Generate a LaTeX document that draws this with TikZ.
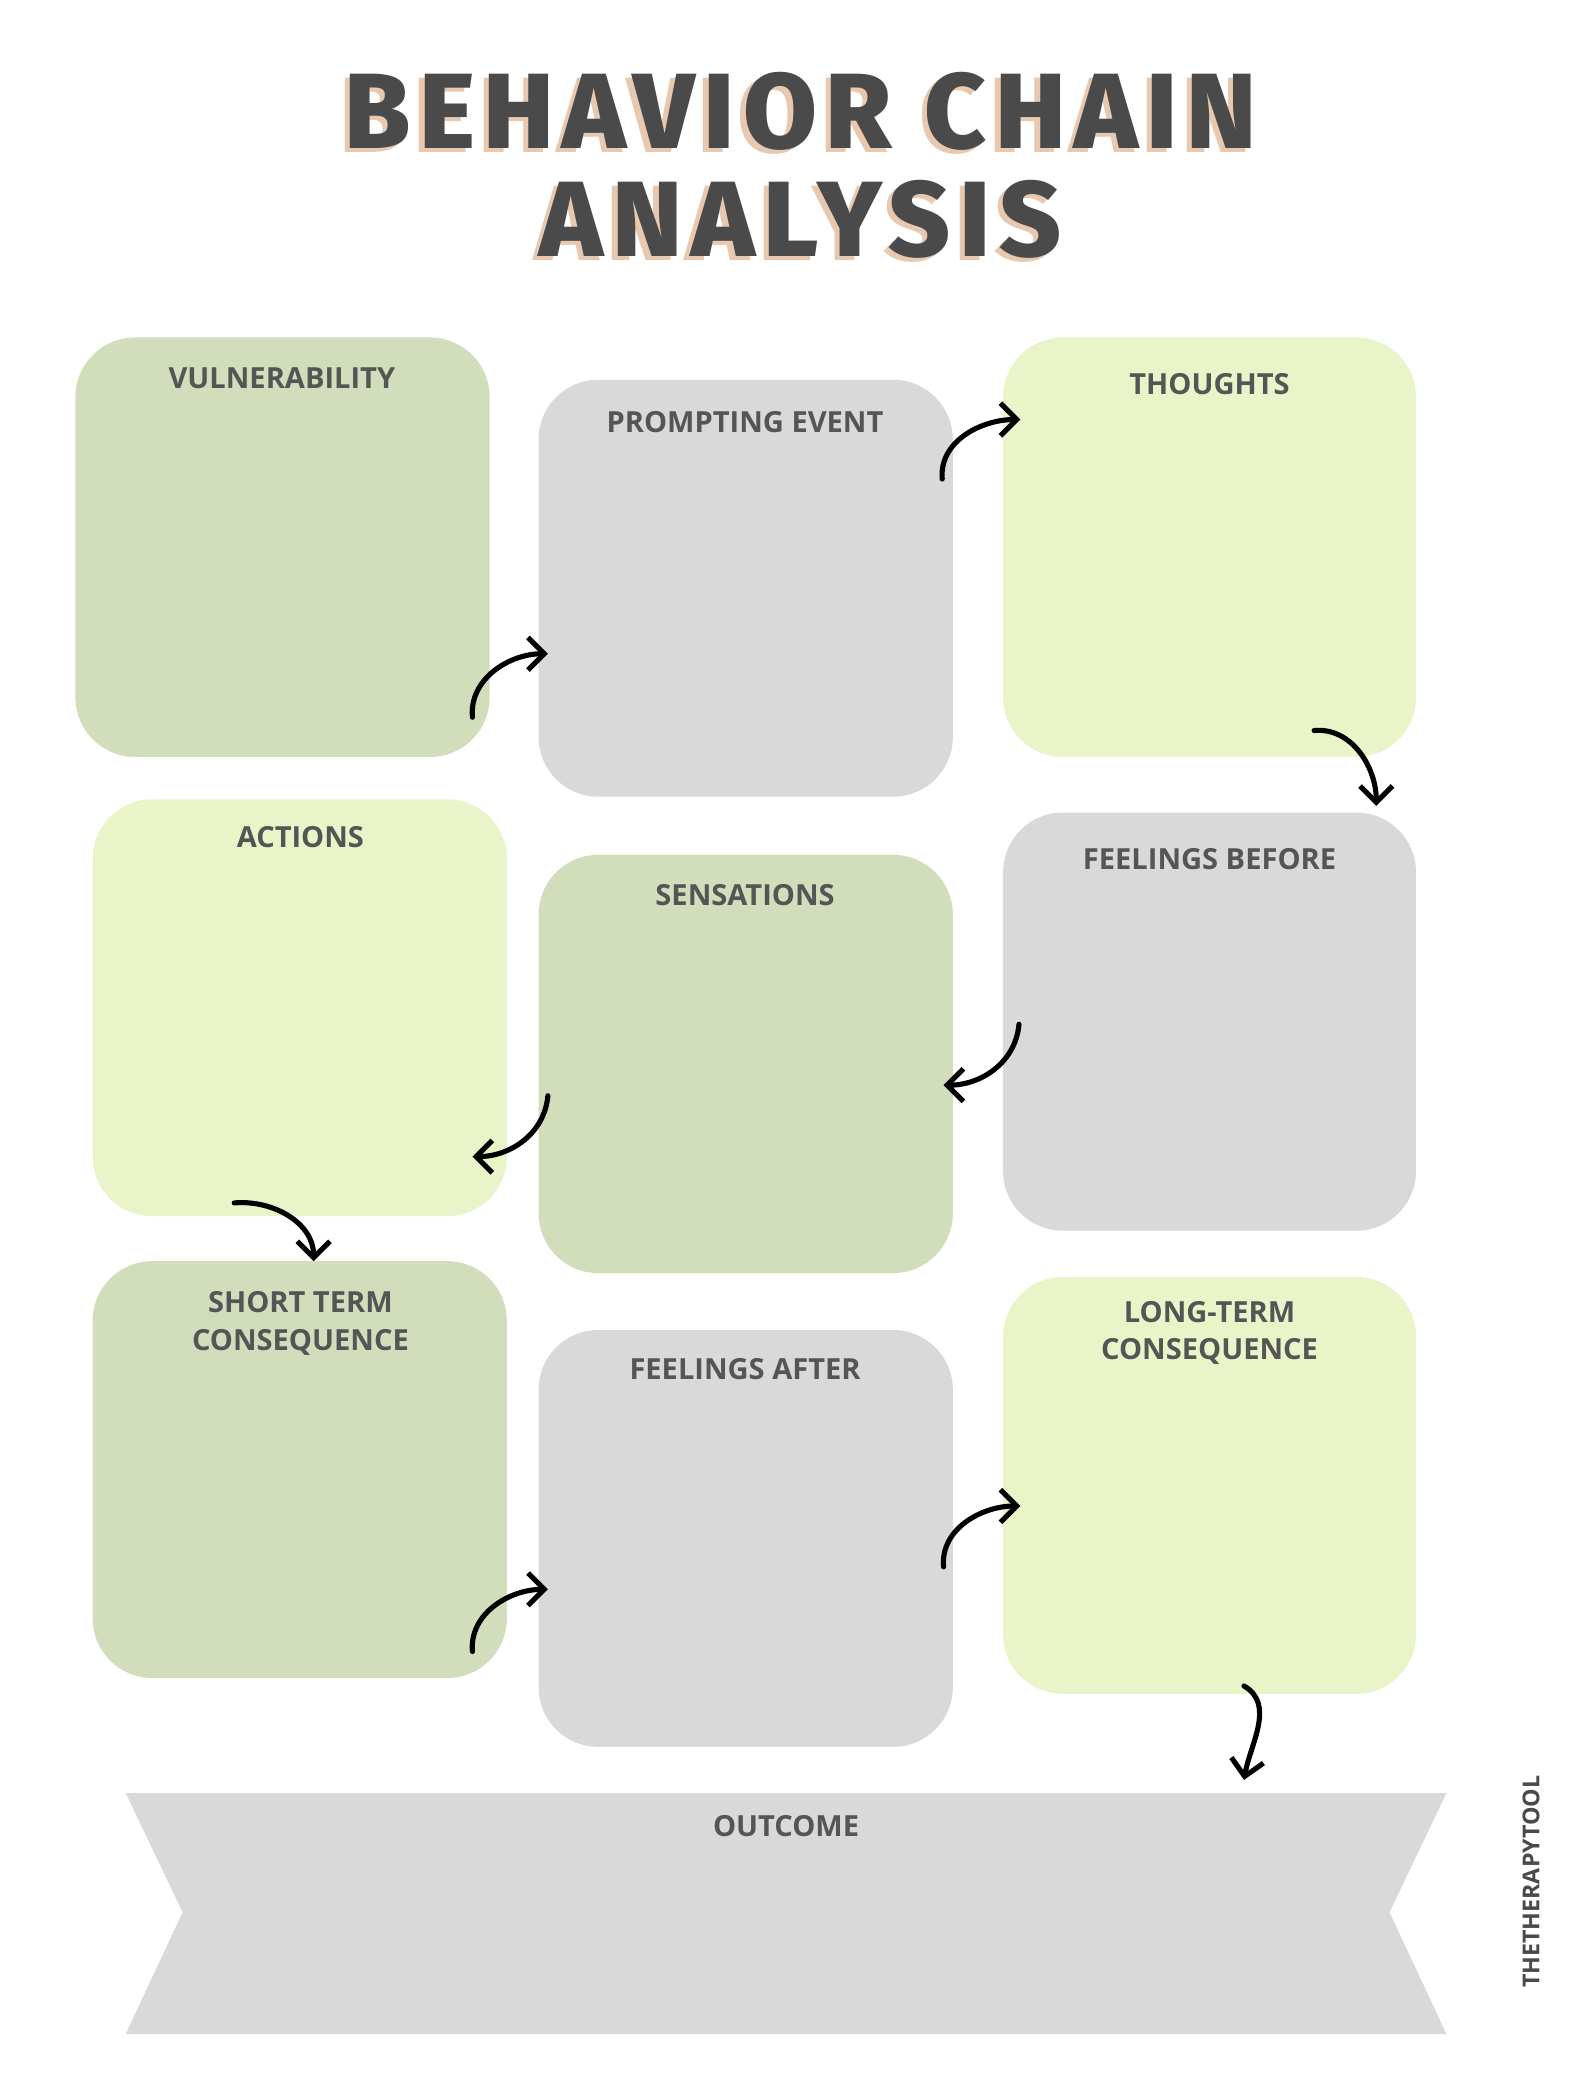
\documentclass[tikz,border=0pt]{standalone}
\usepackage{fontspec}
\setmainfont{Open Sans}
\newfontfamily\titlefont[LetterSpace=8]{Fira Sans ExtraBold}
\usetikzlibrary{arrows.meta}
\definecolor{cgreen}{HTML}{D2DEBB}
\definecolor{cgray}{HTML}{D9D9D9}
\definecolor{clight}{HTML}{E9F5C9}
\definecolor{ctext}{HTML}{555555}
\definecolor{ctitle}{HTML}{4A4A4A}
\definecolor{cshadow}{HTML}{E8C9B0}
\begin{document}
\begin{tikzpicture}[x=0.02cm,y=-0.02cm,
  box/.style={rounded corners=0.9cm},
  lab/.style={font=\bfseries\fontsize{12.5}{16}\selectfont,text=ctext,align=center,anchor=north},
  arr/.style={line width=2.2pt,line cap=round,-{Straight Barb[length=7pt,width=14pt]}},
  ttl/.style={font=\titlefont\fontsize{46}{46}\selectfont,inner sep=0pt}]
\useasboundingbox[fill=white] (0,0) rectangle (1200,1568);
% title
\foreach \t/\y in {BEHAVIOR CHAIN/84,ANALYSIS/166}{
  \node[ttl,text=cshadow] at (601,\y+3) {\t};
  \node[ttl,text=ctitle] at (605,\y) {\t};}
% boxes
\fill[cgreen,box] (57,255) rectangle (370,572);
\fill[cgray,box] (407,287) rectangle (720,602);
\fill[clight,box] (758,255) rectangle (1070,572);
\fill[clight,box] (70,604) rectangle (383,919);
\fill[cgreen,box] (407,646) rectangle (720,962);
\fill[cgray,box] (758,614) rectangle (1070,930);
\fill[cgreen,box] (70,953) rectangle (383,1268);
\fill[cgray,box] (407,1005) rectangle (720,1320);
\fill[clight,box] (758,965) rectangle (1070,1280);
\fill[cgray] (95,1355) -- (1093,1355) -- (1050,1445) -- (1093,1537) -- (95,1537) -- (138,1445) -- cycle;
% labels
\node[lab] (vul) at (213,272) {VULNERABILITY};
\node[lab] (pro) at (563,305) {PROMPTING EVENT};
\node[lab] (tho) at (914,276) {THOUGHTS};
\node[lab] (act) at (227,618) {ACTIONS};
\node[lab] (sen) at (563,662) {SENSATIONS};
\node[lab] (feb) at (914,635) {FEELINGS BEFORE};
\node[lab] (sho) at (227,970) {SHORT TERM\\CONSEQUENCE};
\node[lab] (fea) at (563,1020) {FEELINGS AFTER};
\node[lab] (lon) at (914,977) {LONG-TERM\\CONSEQUENCE};
\node[lab] (out) at (594,1366) {OUTCOME};
\node[rotate=90,font=\bfseries\fontsize{10}{10}\selectfont,text=ctitle] (brand) at (1157,1422) {THETHERAPYTOOL};
% arrows
\coordinate (a1) at (357,542); \coordinate (b1) at (414,494);
\coordinate (a2) at (712,362); \coordinate (b2) at (771,317);
\coordinate (a3) at (993,552); \coordinate (b3) at (1040,609);
\coordinate (a4) at (770,774); \coordinate (b4) at (713,820);
\coordinate (a5) at (414,828); \coordinate (b5) at (357,874);
\coordinate (a6) at (177,909); \coordinate (b6) at (237,953);
\coordinate (a7) at (357,1248); \coordinate (b7) at (414,1201);
\coordinate (a8) at (713,1184); \coordinate (b8) at (771,1138);
\coordinate (a9) at (940,1274); \coordinate (b9) at (940,1345);
\draw[arr] (a1) to[out=95,in=180] (b1);
\draw[arr] (a2) to[out=95,in=180] (b2);
\draw[arr] (a3) to[out=5,in=90] (b3);
\draw[arr] (a4) to[out=-95,in=0] (b4);
\draw[arr] (a5) to[out=-95,in=0] (b5);
\draw[arr] (a6) to[out=5,in=90] (b6);
\draw[arr] (a7) to[out=95,in=180] (b7);
\draw[arr] (a8) to[out=95,in=180] (b8);
\draw[arr] (a9) to[out=-30,in=80] (b9);
\end{tikzpicture}
\end{document}
